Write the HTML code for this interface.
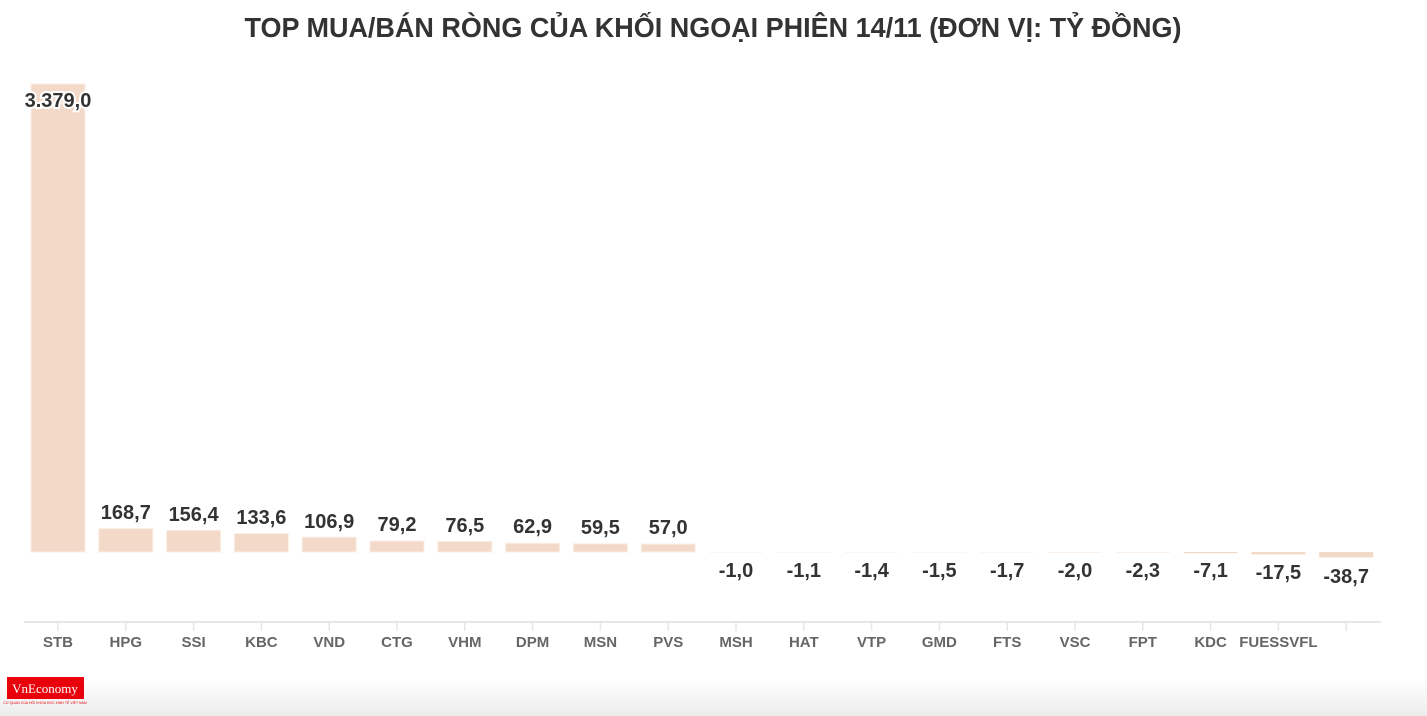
<!DOCTYPE html>
<html><head><meta charset="utf-8"><style>
body{margin:0;background:#fff;width:1427px;height:716px;overflow:hidden}
svg{display:block}
.t{font-family:"Liberation Sans",sans-serif;font-weight:bold}
.v{font-family:"Liberation Sans",sans-serif;font-weight:bold;font-size:20px;fill:#333;text-anchor:middle}
.x{font-family:"Liberation Sans",sans-serif;font-weight:bold;font-size:15px;fill:#666;text-anchor:middle}
</style></head><body>
<svg width="1427" height="716" xmlns="http://www.w3.org/2000/svg">
<defs><linearGradient id="g" x1="0" y1="0" x2="0" y2="1"><stop offset="0" stop-color="#fff"/><stop offset="1" stop-color="#ececec"/></linearGradient></defs>
<rect x="0" y="680" width="1427" height="36" fill="url(#g)"/>
<text class="t" x="713" y="37" font-size="28" fill="#333" text-anchor="middle" textLength="937" lengthAdjust="spacingAndGlyphs">TOP MUA/BÁN RÒNG CỦA KHỐI NGOẠI PHIÊN 14/11 (ĐƠN VỊ: TỶ ĐỒNG)</text>
<g fill="#f3d9c7" stroke="#fbeee4" stroke-width="1">
<rect x="31" y="84" width="54" height="468"/>
<rect x="98.8" y="528.6" width="54" height="23.4"/>
<rect x="166.6" y="530.3" width="54" height="21.7"/>
<rect x="234.4" y="533.5" width="54" height="18.5"/>
<rect x="302.2" y="537.2" width="54" height="14.8"/>
<rect x="370" y="541" width="54" height="11"/>
<rect x="437.8" y="541.4" width="54" height="10.6"/>
<rect x="505.6" y="543.3" width="54" height="8.7"/>
<rect x="573.4" y="543.8" width="54" height="8.2"/>
<rect x="641.2" y="544.1" width="54" height="7.9"/>
</g>
<g fill="#f3d9c7">
<rect x="709" y="552" width="54" height="0.5" opacity="0.5"/>
<rect x="776.8" y="552" width="54" height="0.5" opacity="0.5"/>
<rect x="844.6" y="552" width="54" height="0.5" opacity="0.5"/>
<rect x="912.4" y="552" width="54" height="0.5" opacity="0.5"/>
<rect x="980.2" y="552" width="54" height="0.5" opacity="0.5"/>
<rect x="1048" y="552" width="54" height="0.6" opacity="0.6"/>
<rect x="1115.8" y="552" width="54" height="0.6" opacity="0.6"/>
<rect x="1183.6" y="552" width="54" height="1.2"/>
<rect x="1251.4" y="552" width="54" height="2.4"/>
<rect x="1319.2" y="552" width="54" height="5.4"/>
</g>
<text class="v" x="58" y="107" stroke="#fff" stroke-width="4" paint-order="stroke">3.379,0</text>
<text class="v" x="125.8" y="519">168,7</text>
<text class="v" x="193.6" y="521">156,4</text>
<text class="v" x="261.4" y="524">133,6</text>
<text class="v" x="329.2" y="528">106,9</text>
<text class="v" x="397" y="531">79,2</text>
<text class="v" x="464.8" y="532">76,5</text>
<text class="v" x="532.6" y="533">62,9</text>
<text class="v" x="600.4" y="534">59,5</text>
<text class="v" x="668.2" y="534">57,0</text>
<text class="v" x="736" y="577">-1,0</text>
<text class="v" x="803.8" y="577">-1,1</text>
<text class="v" x="871.6" y="577">-1,4</text>
<text class="v" x="939.4" y="577">-1,5</text>
<text class="v" x="1007.2" y="577">-1,7</text>
<text class="v" x="1075" y="577">-2,0</text>
<text class="v" x="1142.8" y="577">-2,3</text>
<text class="v" x="1210.6" y="577">-7,1</text>
<text class="v" x="1278.4" y="579">-17,5</text>
<text class="v" x="1346.2" y="583">-38,7</text>
<line x1="24" y1="622" x2="1381" y2="622" stroke="#e6e6e6" stroke-width="2"/>
<g stroke="#e6e6e6" stroke-width="1.5">
<line x1="58" y1="622" x2="58" y2="631"/><line x1="125.8" y1="622" x2="125.8" y2="631"/><line x1="193.6" y1="622" x2="193.6" y2="631"/><line x1="261.4" y1="622" x2="261.4" y2="631"/><line x1="329.2" y1="622" x2="329.2" y2="631"/><line x1="397" y1="622" x2="397" y2="631"/><line x1="464.8" y1="622" x2="464.8" y2="631"/><line x1="532.6" y1="622" x2="532.6" y2="631"/><line x1="600.4" y1="622" x2="600.4" y2="631"/><line x1="668.2" y1="622" x2="668.2" y2="631"/><line x1="736" y1="622" x2="736" y2="631"/><line x1="803.8" y1="622" x2="803.8" y2="631"/><line x1="871.6" y1="622" x2="871.6" y2="631"/><line x1="939.4" y1="622" x2="939.4" y2="631"/><line x1="1007.2" y1="622" x2="1007.2" y2="631"/><line x1="1075" y1="622" x2="1075" y2="631"/><line x1="1142.8" y1="622" x2="1142.8" y2="631"/><line x1="1210.6" y1="622" x2="1210.6" y2="631"/><line x1="1278.4" y1="622" x2="1278.4" y2="631"/><line x1="1346.2" y1="622" x2="1346.2" y2="631"/>
</g>
<text class="x" x="58" y="647">STB</text>
<text class="x" x="125.8" y="647">HPG</text>
<text class="x" x="193.6" y="647">SSI</text>
<text class="x" x="261.4" y="647">KBC</text>
<text class="x" x="329.2" y="647">VND</text>
<text class="x" x="397" y="647">CTG</text>
<text class="x" x="464.8" y="647">VHM</text>
<text class="x" x="532.6" y="647">DPM</text>
<text class="x" x="600.4" y="647">MSN</text>
<text class="x" x="668.2" y="647">PVS</text>
<text class="x" x="736" y="647">MSH</text>
<text class="x" x="803.8" y="647">HAT</text>
<text class="x" x="871.6" y="647">VTP</text>
<text class="x" x="939.4" y="647">GMD</text>
<text class="x" x="1007.2" y="647">FTS</text>
<text class="x" x="1075" y="647">VSC</text>
<text class="x" x="1142.8" y="647">FPT</text>
<text class="x" x="1210.6" y="647">KDC</text>
<text class="x" x="1278.4" y="647">FUESSVFL</text>
<rect x="7" y="677" width="77" height="22" fill="#e8000b"/>
<text x="45" y="693" font-family="Liberation Serif,serif" font-size="13" fill="#fff" text-anchor="middle">VnEconomy</text>
<text x="45" y="704" font-family="Liberation Sans,sans-serif" font-size="3.5" fill="#e8000b" text-anchor="middle">CƠ QUAN CỦA HỘI KHOA HỌC KINH TẾ VIỆT NAM</text>
</svg>
</body></html>
